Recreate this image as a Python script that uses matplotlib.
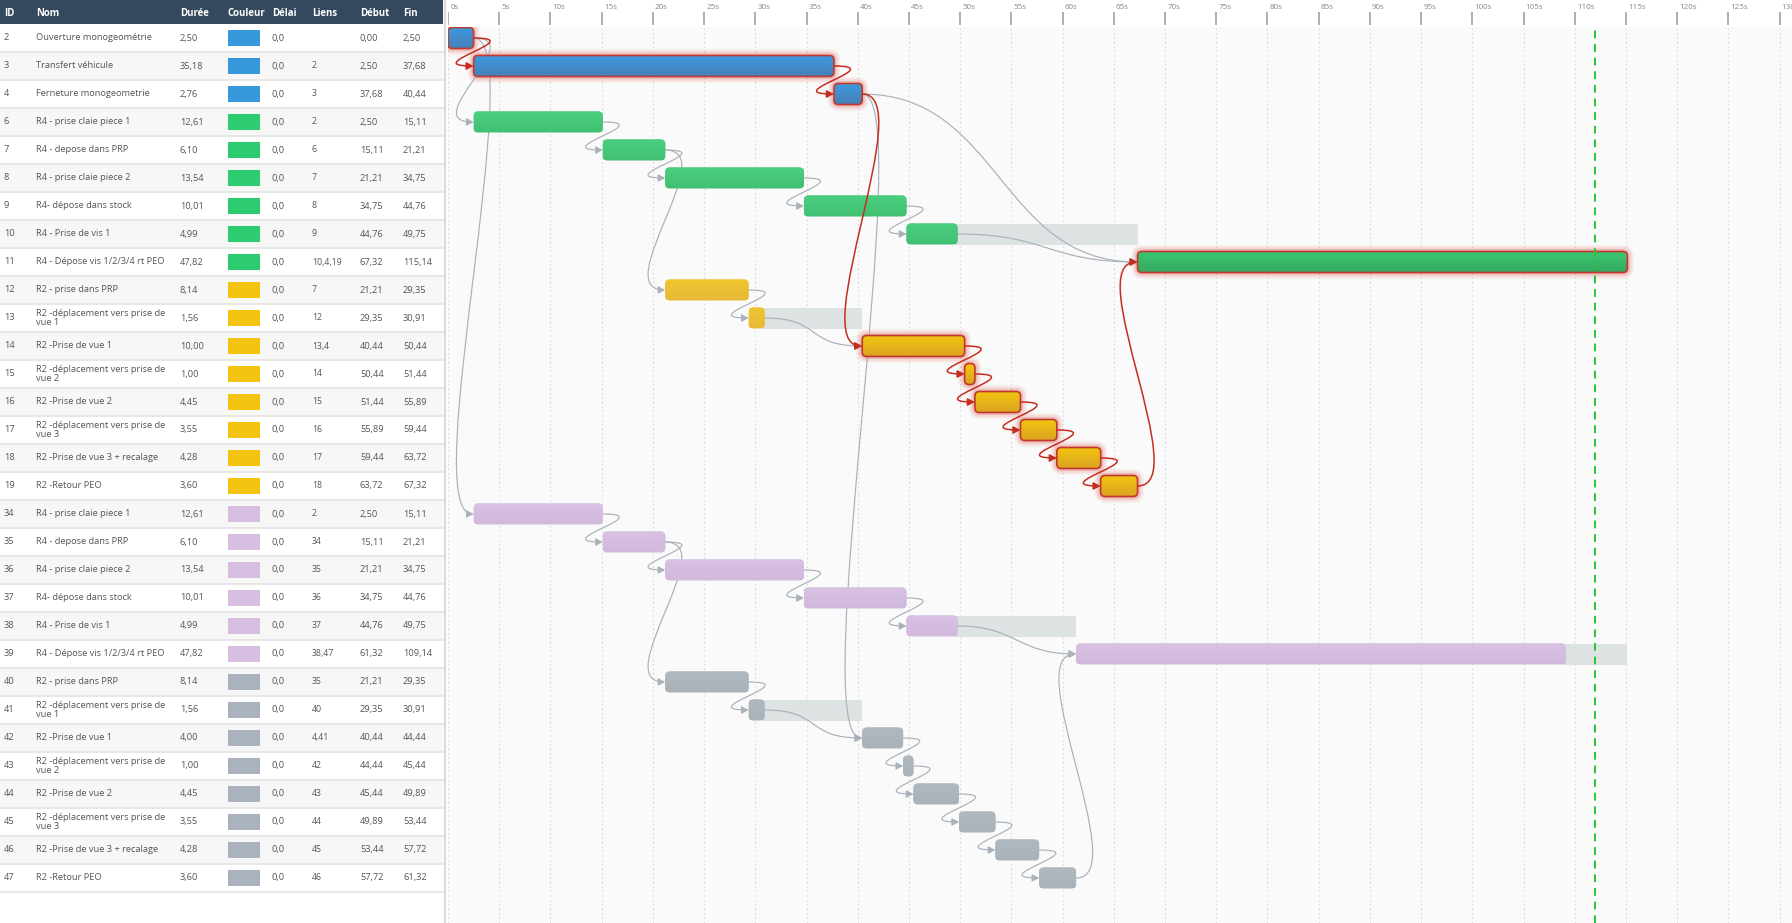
import textwrap
import numpy as np
import matplotlib
matplotlib.use('Agg')
import matplotlib.pyplot as plt
from matplotlib.patches import FancyBboxPatch, Rectangle, FancyArrowPatch, ArrowStyle
from matplotlib.path import Path
from matplotlib.colors import LinearSegmentedColormap

plt.rcParams['font.family'] = ['Open Sans', 'DejaVu Sans']

# ---- data ----
ids = [2, 3, 4, 6, 7, 8, 9, 10, 11, 12, 13, 14, 15, 16, 17, 18, 19,
       34, 35, 36, 37, 38, 39, 40, 41, 42, 43, 44, 45, 46, 47]
names = ['Ouverture monogeométrie', 'Transfert véhicule', 'Ferneture monogeometrie',
         'R4 - prise claie piece 1', 'R4 - depose dans PRP', 'R4 - prise claie piece 2',
         'R4- dépose dans stock', 'R4 - Prise de vis 1', 'R4 - Dépose vis 1/2/3/4 rt PEO',
         'R2 - prise dans PRP', 'R2 -déplacement vers prise de vue 1', 'R2 -Prise de vue 1',
         'R2 -déplacement vers prise de vue 2', 'R2 -Prise de vue 2',
         'R2 -déplacement vers prise de vue 3', 'R2 -Prise de vue 3 + recalage', 'R2 -Retour PEO',
         'R4 - prise claie piece 1', 'R4 - depose dans PRP', 'R4 - prise claie piece 2',
         'R4- dépose dans stock', 'R4 - Prise de vis 1', 'R4 - Dépose vis 1/2/3/4 rt PEO',
         'R2 - prise dans PRP', 'R2 -déplacement vers prise de vue 1', 'R2 -Prise de vue 1',
         'R2 -déplacement vers prise de vue 2', 'R2 -Prise de vue 2',
         'R2 -déplacement vers prise de vue 3', 'R2 -Prise de vue 3 + recalage', 'R2 -Retour PEO']
durations = [2.50, 35.18, 2.76, 12.61, 6.10, 13.54, 10.01, 4.99, 47.82, 8.14, 1.56, 10.00,
             1.00, 4.45, 3.55, 4.28, 3.60, 12.61, 6.10, 13.54, 10.01, 4.99, 47.82, 8.14,
             1.56, 4.00, 1.00, 4.45, 3.55, 4.28, 3.60]
starts = [0.00, 2.50, 37.68, 2.50, 15.11, 21.21, 34.75, 44.76, 67.32, 21.21, 29.35, 40.44,
          50.44, 51.44, 55.89, 59.44, 63.72, 2.50, 15.11, 21.21, 34.75, 44.76, 61.32, 21.21,
          29.35, 40.44, 44.44, 45.44, 49.89, 53.44, 57.72]
delays = [0.0] * 31
links = ['', '2', '3', '2', '6', '7', '8', '9', '10,4,19', '7', '12', '13,4', '14', '15',
         '16', '17', '18', '2', '34', '35', '36', '37', '38,47', '35', '40', '4,41', '42',
         '43', '44', '45', '46']
groups = ['blue'] * 3 + ['green'] * 6 + ['yellow'] * 8 + ['lavender'] * 6 + ['gray'] * 8
critical_ids = [2, 3, 4, 11, 14, 15, 16, 17, 18, 19]
target = 112.0

swatch = {'blue': '#3498db', 'green': '#2ecc71', 'yellow': '#f1c40f',
          'lavender': '#d7bde2', 'gray': '#aab2bd'}
grad = {'blue': ('#3c9ae0', '#4680b8'), 'green': ('#4ccf80', '#41c072'),
        'yellow': ('#f0c62e', '#e8b938'), 'lavender': ('#d8c1e3', '#d1b9dd'),
        'gray': ('#b0b8c0', '#a9b1b9')}
grad_crit = {'blue': ('#3c9ae0', '#4680b8'), 'green': ('#3cc872', '#35a862'),
             'yellow': ('#f3c70f', '#dca321')}

ends = [s + d for s, d in zip(starts, durations)]
row_of = {t: i for i, t in enumerate(ids)}
fmt = lambda v, n=2: f'{v:.{n}f}'.replace('.', ',')

# ---- layout ----
W, H = 1792, 923
PXS = 10.243          # pixels per second
ROW = 28.0            # pixels per row
fig = plt.figure(figsize=(W / 100, H / 100), dpi=100)
fig.patch.set_facecolor('white')


def px_axes(x0, y0, x1, y1):
    a = fig.add_axes([x0 / W, 1 - y1 / H, (x1 - x0) / W, (y1 - y0) / H])
    a.set_axis_off()
    return a


rowc = lambda py: (py - 38) / ROW
XMAX = (W - 448) / PXS

# ---- table ----
tab = px_axes(0, 0, 447, H)
tab.set_xlim(0, 447)
tab.set_ylim(rowc(H), rowc(0))
tab.axhspan(rowc(0), -0.5, xmin=0, xmax=443 / 447, color='#34495e', lw=0)
cols = [('ID', 4), ('Nom', 36), ('Durée', 180), ('Couleur', 228), ('Délai', 272),
        ('Liens', 312), ('Début', 360), ('Fin', 403)]
for lab, x in cols:
    tab.text(x, rowc(13), lab, color='white', fontsize=6.9, fontweight='bold', va='center')

txt = dict(fontsize=6.7, color='#555555', va='center')
for i in range(len(ids)):
    if i % 2 == 1:
        tab.axhspan(i - 0.5, i + 0.5, xmin=0, xmax=443 / 447, color='#f7f7f7', lw=0)
    tab.axhline(i + 0.5, xmin=0, xmax=443 / 447, color='#e3e3e3', lw=1.2)
    tab.text(4, i, str(ids[i]), **txt)
    tab.text(36, i, textwrap.fill(names[i], 30), linespacing=1.05, **txt)
    tab.text(180, i, fmt(durations[i]), **txt)
    tab.add_patch(Rectangle((228, i - 0.27), 32, 0.54, color=swatch[groups[i]], lw=0))
    tab.text(272, i, fmt(delays[i], 1), **txt)
    tab.text(312, i, links[i], fontsize=6.3, color='#555555', va='center')
    tab.text(360, i, fmt(starts[i]), **txt)
    tab.text(403, i, fmt(ends[i]), **txt)
tab.axvline(444.5, color='#dcdcdc', lw=1.6)

# ---- time scale ----
tax = px_axes(448, 0, W, 27)
tax.set_xlim(0, XMAX)
tax.set_ylim(27, 0)
ticks = np.arange(0, 135, 5)
tax.vlines(ticks, 12, 25, color='#a8a8a8', lw=1.3)
for t in ticks:
    tax.text(t + 2.2 / PXS, 7.5, f'{t}s', fontsize=5.8, color='#888888', va='center')

# ---- gantt ----
ax = px_axes(448, 27, W, H)
ax.set_axis_on()
for s in ax.spines.values():
    s.set_visible(False)
ax.set_xticks([])
ax.set_yticks([])
ax.set_facecolor('#fafafa')
ax.set_xlim(0, XMAX)
ax.set_ylim(rowc(H), rowc(27))
for t in ticks:
    ax.axvline(t, color='#dadada', lw=0.8, ls=(0, (1.5, 2.5)), zorder=1)

BH = 0.75
asp = PXS / ROW


def bar_patch(x, yc, w, **kw):
    rs = min(4.5 / PXS, w / 2)
    return FancyBboxPatch((x, yc - BH / 2), w, BH, boxstyle=f'round,pad=0,rounding_size={rs}',
                          mutation_aspect=asp, **kw)


# free slack bars (to earliest successor start, or project end)
succ = {t: [] for t in ids}
for i, lk in enumerate(links):
    for p in filter(None, lk.split(',')):
        succ[int(p)].append(ids[i])
proj_end = max(ends)
for i, t in enumerate(ids):
    nxt = min([starts[row_of[s]] for s in succ[t]], default=proj_end)
    if nxt - ends[i] > 0.01:
        ax.add_patch(Rectangle((ends[i] - 0.3, i - BH / 2), nxt - ends[i] + 0.3, BH,
                               color='#dde2e2', lw=0, zorder=2))

# bars
grad_img = np.linspace(0, 1, 64).reshape(-1, 1)
for i, t in enumerate(ids):
    crit = t in critical_ids
    c_top, c_bot = (grad_crit if crit else grad)[groups[i]]
    if crit:
        for lw, a in [(9, 0.07), (6, 0.10), (3.5, 0.14)]:
            ax.add_patch(bar_patch(starts[i], i, durations[i], facecolor='none',
                                   edgecolor=(0.85, 0.12, 0.08, a), lw=lw, zorder=3))
    p = bar_patch(starts[i], i, durations[i], facecolor=c_bot, edgecolor='none', zorder=4)
    ax.add_patch(p)
    cmap = LinearSegmentedColormap.from_list('g', [c_top, c_bot])
    im = ax.imshow(grad_img, cmap=cmap, aspect='auto', zorder=4.1, interpolation='bilinear',
                   extent=(starts[i], ends[i], i + BH / 2, i - BH / 2))
    im.set_clip_path(p)
    if crit:
        ax.add_patch(bar_patch(starts[i], i, durations[i], facecolor='none',
                               edgecolor='#c0392b', lw=1.2, zorder=4.2))
ax.set_xlim(0, XMAX)
ax.set_ylim(rowc(H), rowc(27))

# dependency links: S-curves from predecessor end to successor start
D = 5.6
for i, lk in enumerate(links):
    for p in filter(None, lk.split(',')):
        j = row_of[int(p)]
        x0, y0, x1, y1 = ends[j], j, starts[i], i
        off = max(D, (x1 - x0) / 2)
        crit = (ids[j] in critical_ids and ids[i] in critical_ids and abs(x0 - x1) < 1e-6)
        path = Path([(x0, y0), (x0 + off, y0), (x1 - off, y1), (x1, y1)],
                    [Path.MOVETO, Path.CURVE4, Path.CURVE4, Path.CURVE4])
        col = '#c62d1f' if crit else '#a9b1ba'
        ax.add_patch(FancyArrowPatch(path=path, color=col, lw=1.1 if crit else 0.85,
                                     arrowstyle=ArrowStyle('-|>', head_length=4.2, head_width=2.2),
                                     mutation_scale=1, zorder=5 if crit else 3.5))

ax.axvline(target, color='#2bc43a', lw=1.4, ls=(0, (4, 3)), zorder=6)

fig.savefig('out.png', dpi=100)
